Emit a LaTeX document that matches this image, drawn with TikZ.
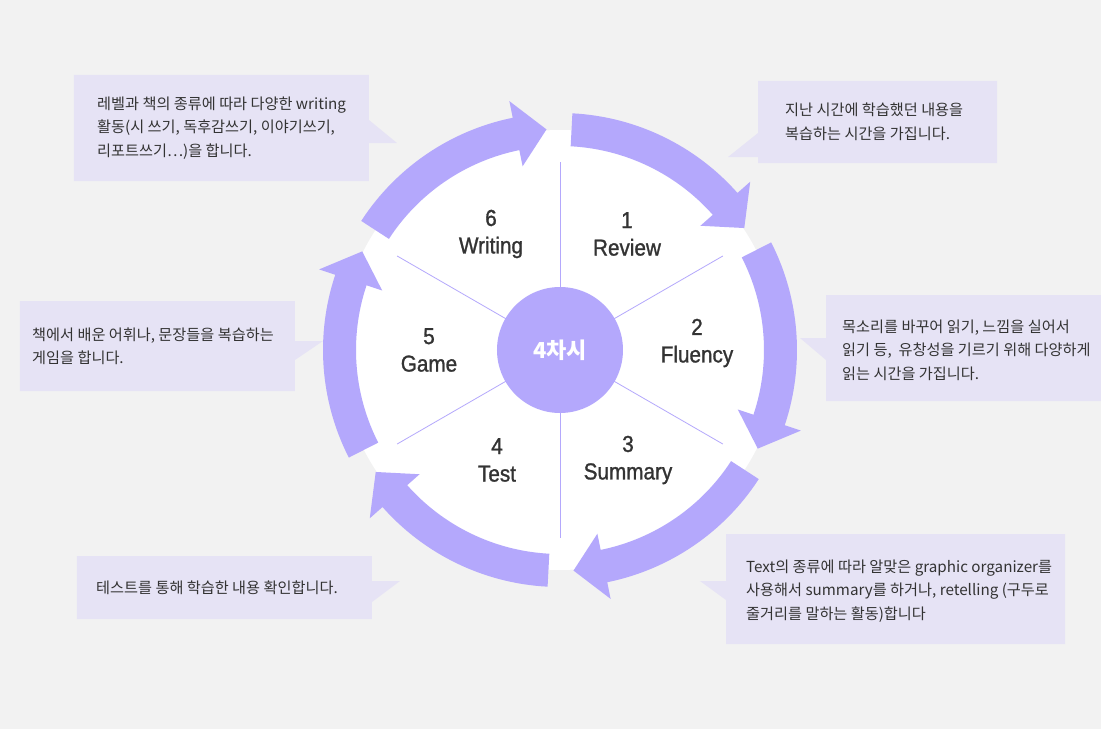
\documentclass[tikz,border=0pt]{standalone}
\usepackage{fontspec}
\setmainfont{Liberation Sans}
\newfontfamily\labelfont{Liberation Sans}[FakeBold=1.2, FakeStretch=0.9]
\newfontfamily\kofont{Noto Sans CJK KR}
\usetikzlibrary{positioning}

\definecolor{ringpurple}{RGB}{180,168,252}
\definecolor{boxlav}{RGB}{230,227,245}
\definecolor{bggray}{RGB}{242,242,242}
\definecolor{labelgray}{RGB}{51,51,51}

\tikzset{
  steplabel/.style={align=center, text=labelgray, font=\labelfont\fontsize{23}{27.5}\selectfont},
  notetext/.style={anchor=west, align=left, inner sep=0pt, text=labelgray, font=\kofont\fontsize{15.2}{23.5}\selectfont},
  notebox/.style={fill=boxlav},
  hub/.style={circle, fill=ringpurple, minimum size=126pt, inner sep=0pt, text=white, font=\kofont\bfseries\fontsize{22}{22}\selectfont}
}

\begin{document}
\begin{tikzpicture}[x=1pt,y=1pt]
			% Background
			\fill[bggray] (-560,-379) rectangle (541,350);
			\useasboundingbox (-560,-379) rectangle (541,350);
			
			% Note boxes with pointers
			\fill[notebox] (-486,169) -- (-486,275) -- (-191,275) -- (-191,230) -- (-163,207) -- (-191,207) -- (-191,169) -- cycle;
			\fill[notebox] (198,187) -- (198,193) -- (168,193) -- (198,217) -- (198,269) -- (437,269) -- (437,187) -- cycle;
			\fill[notebox] (266,-51) -- (266,-10) -- (240,12) -- (266,12) -- (266,55) -- (541,55) -- (541,-51) -- cycle;
			\fill[notebox] (-540,-41) -- (-540,49) -- (-265,49) -- (-265,9) -- (-237,9) -- (-265,-10) -- (-265,-41) -- cycle;
			\fill[notebox] (-483,-269) -- (-483,-206) -- (-188,-206) -- (-188,-231) -- (-160,-231) -- (-188,-252) -- (-188,-269) -- cycle;
			\fill[notebox] (166,-294) -- (166,-250) -- (140,-231) -- (166,-231) -- (166,-184) -- (505,-184) -- (505,-294) -- cycle;
			
			% Note texts
			\node[notetext] (writingnote) at (-463,222) {레벨과 책의 종류에 따라 다양한 writing\\활동(시 쓰기, 독후감쓰기, 이야기쓰기,\\리포트쓰기…)을 합니다.};
			\node[notetext] (reviewnote) at (225,228) {지난 시간에 학습했던 내용을\\복습하는 시간을 가집니다.};
			\node[notetext] (fluencynote) at (282,0) {목소리를 바꾸어 읽기, 느낌을 실어서\\읽기 등,\ \ 유창성을 기르기 위해 다양하게\\읽는 시간을 가집니다.};
			\node[notetext] (gamenote) at (-528,3.5) {책에서 배운 어휘나, 문장들을 복습하는\\게임을 합니다.};
			\node[notetext] (testnote) at (-464,-238) {테스트를 통해 학습한 내용 확인합니다.};
			\node[notetext] (summarynote) at (186,-241) {Text의 종류에 따라 알맞은 graphic organizer를\\사용해서 summary를 하거나, retelling (구두로\\줄거리를 말하는 활동)합니다};
			
			% Wheel
			\fill[white] (0,0) circle[radius=220];
			\foreach \a in {90,30,-30,-90,-150,-210} {
				\fill[ringpurple] ({\a-3}:237) arc[start angle=\a-3, end angle=\a-48.5, radius=237]
					-- ({\a-48.5}:254) -- ({\a-56.5}:221) -- ({\a-48.5}:187.5) -- ({\a-48.5}:204)
					arc[start angle=\a-48.5, end angle=\a-3, radius=204] -- cycle;
				\draw[ringpurple, line width=0.8pt] (\a:60) -- (\a:188);
			}
			\node[hub] (lesson) at (0,0) {4차시};
			
			% Step labels
			\node[steplabel] (review) at (67,116) {1\\Review};
			\node[steplabel] (fluency) at (137,7) {2\\Fluency};
			\node[steplabel] (summary) at (68,-110) {3\\Summary};
			\node[steplabel] (test) at (-63,-110) {4\\Test};
			\node[steplabel] (game) at (-131,0) {5\\Game};
			\node[steplabel] (writing) at (-69,116) {6\\Writing};
\end{tikzpicture}
\end{document}
